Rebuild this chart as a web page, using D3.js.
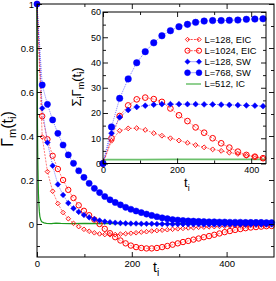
<!DOCTYPE html>
<html><head><meta charset="utf-8">
<script src="https://cdn.jsdelivr.net/npm/d3@7"></script>
<style>
body{margin:0;background:#fff}
text{font-family:"Liberation Sans",Arial,Helvetica,sans-serif;fill:#000}
</style></head>
<body><svg id="c" width="276" height="281"></svg>
<script>
// ---------- data ----------
const seriesNames = ["L=128, EIC","L=1024, EIC","L=128, SW","L=768, SW","L=512, IC"];
const tMain = [0,11,22,33,44,55,66,77,88,99,110,121,132,143,154,165,176,187,198,209,220,231,242,253,264,275,286,297,308,319,330,341,352,363,374,385,396,407,418,429,440,451,462,473,484,495];
const gEIC128 = [1.0,0.396,0.238,0.149,0.093,0.052,0.024,0.003,-0.012,-0.024,-0.033,-0.04,-0.045,-0.048,-0.049,-0.048,-0.046,-0.044,-0.042,-0.04,-0.037,-0.035,-0.032,-0.03,-0.028,-0.026,-0.024,-0.022,-0.02,-0.018,-0.017,-0.015,-0.014,-0.013,-0.012,-0.011,-0.01,-0.009,-0.008,-0.007,-0.006,-0.005,-0.005,-0.004,-0.004,-0.003];
const gEIC1024 = [1.0,0.49,0.385,0.31,0.25,0.2,0.155,0.118,0.085,0.06,0.04,0.02,0.0,-0.022,-0.042,-0.06,-0.075,-0.088,-0.098,-0.105,-0.109,-0.111,-0.111,-0.109,-0.105,-0.1,-0.094,-0.088,-0.082,-0.077,-0.071,-0.066,-0.06,-0.055,-0.049,-0.043,-0.037,-0.032,-0.027,-0.023,-0.019,-0.016,-0.014,-0.012,-0.01,-0.009];
const gSW128 = [1.0,0.526,0.37,0.265,0.18,0.132,0.095,0.071,0.055,0.041,0.03,0.022,0.016,0.011,0.008,0.006,0.004,0.003,0.002,0.002,0.001,0.001,0.001,0,0,0,-0.001,-0.001,-0.001,-0.001,-0.001,-0.001,-0.002,-0.002,-0.002,-0.002,-0.002,-0.002,-0.002,-0.002,-0.002,-0.002,-0.002,-0.002,-0.002,-0.002];
const gSW768 = [1.0,0.632,0.544,0.473,0.412,0.359,0.314,0.276,0.242,0.212,0.185,0.162,0.143,0.125,0.11,0.098,0.087,0.076,0.067,0.059,0.052,0.045,0.039,0.033,0.028,0.024,0.02,0.018,0.016,0.014,0.013,0.012,0.011,0.010,0.010,0.009,0.009,0.008,0.008,0.008,0.007,0.007,0.007,0.007,0.006,0.006];
const tIC = [0,0.5,1,1.5,2,3,4,5,6,8,10,15,20,30,40,50,70,100,150,200,250,300,350,400,450,500];
const gIC512 = [1,0.7,0.45,0.33,0.25,0.14,0.09,0.055,0.035,0.018,0.01,0.005,0.003,0.002,0.004,0.003,0.002,0.003,0.002,0.002,0.001,0.002,0.001,0.001,0.001,0.001];

const tInset = [0,23,45,68,91,114,137,159,182,205,228,250,273,296,319,341,364,387,410,432];
const sEIC128 = [0,9,13.0,13.9,14.0,13.3,12.0,11.0,10.0,9.1,8.2,7.3,6.4,5.6,5.0,4.3,3.8,3.1,2.7,2.1];
const sEIC1024 = [0,10,18.8,23.0,25.4,26.1,25.5,24.4,21.8,19.1,16.8,14.3,12.2,10.0,8.0,6.3,4.7,3.4,2.7,2.1];
const sSW128 = [0,12,18.3,21.2,22.4,22.9,23.3,23.5,23.5,23.5,23.5,23.5,23.4,23.4,23.3,23.2,23.1,23.0,22.9,22.7];
const sSW768 = [0,14.5,25.8,33.5,39.9,44.3,47.8,50.6,52.6,54.2,55.1,55.9,56.4,56.6,56.6,56.7,56.8,57.1,57.2,57.3];
const tICs = [0,2,4,7,12,20,40,100,200,300,440];
const sIC512 = [0,0.8,1.2,1.4,1.5,1.5,1.5,1.55,1.6,1.6,1.6];

const mainXMajor=[0,200,400], mainXMinor=[100,300];
const mainYMajor=[0,0.2,0.4,0.6,0.8,1], mainYMinor=[-0.1,0.1,0.3,0.5,0.7,0.9];
const insXMajor=[0,200,400], insXMinor=[100,300];
const insYMajor=[0,10,20,30,40,50,60], insYMinor=[5,15,25,35,45,55];

// ---------- styles ----------
const RED="#ff0000", BLUE="#0000ff", GREEN_MAIN="#1e9a1e", GREEN_INS="#6cc06c";
const styles = {
  "L=128, EIC": {kind:"diamond", fill:"none", stroke:RED, r:2.3, line:RED, dash:"2,1.2"},
  "L=1024, EIC": {kind:"circle", fill:"none", stroke:RED, r:2.7, line:RED, dash:"2,1.2"},
  "L=128, SW": {kind:"diamond", fill:BLUE, stroke:BLUE, r:2.8, line:BLUE, dash:"1,1"},
  "L=768, SW": {kind:"circle", fill:BLUE, stroke:BLUE, r:3.1, line:BLUE, dash:"1,1"}
};

const svg=d3.select("#c");
function diamond(r){return `M0,${-r}L${r},0L0,${r}L${-r},0Z`;}

function drawMarker(g, st, px, py, scale){
  if(st.kind==="circle"){
    g.append("circle").attr("cx",px).attr("cy",py).attr("r",st.r*scale)
      .attr("fill",st.fill).attr("stroke",st.stroke).attr("stroke-width",st.fill==="none"?1:0.5);
  } else {
    g.append("path").attr("d",diamond(st.r*scale)).attr("transform",`translate(${px},${py})`)
      .attr("fill",st.fill).attr("stroke",st.stroke).attr("stroke-width",st.fill==="none"?0.9:0.5);
  }
}
function drawSeries(g, xs, ys, ts, vs, st, scale){
  const pts=ts.map((t,i)=>({t,v:vs[i]}));
  g.append("path").datum(pts).attr("d",d3.line().x(d=>xs(d.t)).y(d=>ys(d.v)))
    .attr("fill","none").attr("stroke",st.line).attr("stroke-width",0.7)
    .attr("stroke-dasharray",st.dash).attr("opacity",0.75);
  pts.forEach(d=>drawMarker(g,st,xs(d.t),ys(d.v),scale));
}
function drawLine(g,xs,ys,ts,vs,color,w){
  const pts=ts.map((t,i)=>({t,v:vs[i]}));
  g.append("path").datum(pts).attr("d",d3.line().x(d=>xs(d.t)).y(d=>ys(d.v)))
    .attr("fill","none").attr("stroke",color).attr("stroke-width",w);
}
function frameAxes(g,xs,ys,xMaj,xMin,yMaj,yMin,fs,yFmt,xPad,yPad){
  const [x0,x1]=xs.range(), [y0,y1]=ys.range(); // y0 bottom
  const mk=(axis,pos,vals,size,fmt)=>{
    const a=g.append("g").attr("transform",pos).call(axis.tickValues(vals).tickSize(size).tickSizeOuter(0).tickFormat(fmt));
    a.select(".domain").remove();
    a.selectAll("line").attr("stroke","#000").attr("stroke-width",0.9);
    return a;
  };
  const none=()=>"";
  const bx=mk(d3.axisBottom(xs).tickPadding(xPad),`translate(0,${y0})`,xMaj,-5,d=>String(d));
  bx.selectAll("text").attr("font-size",fs).attr("fill","#000");
  mk(d3.axisBottom(xs),`translate(0,${y0})`,xMin,-3,none);
  mk(d3.axisTop(xs),`translate(0,${y1})`,xMaj,-5,none);
  mk(d3.axisTop(xs),`translate(0,${y1})`,xMin,-3,none);
  const ly=mk(d3.axisLeft(ys).tickPadding(yPad),`translate(${x0},0)`,yMaj,-5,yFmt);
  ly.selectAll("text").attr("font-size",fs).attr("fill","#000");
  mk(d3.axisLeft(ys),`translate(${x0},0)`,yMin,-3,none);
  mk(d3.axisRight(ys),`translate(${x1},0)`,yMaj,-5,none);
  mk(d3.axisRight(ys),`translate(${x1},0)`,yMin,-3,none);
  g.append("rect").attr("x",x0).attr("y",y1).attr("width",x1-x0).attr("height",y0-y1)
    .attr("fill","none").attr("stroke","#000").attr("stroke-width",1);
}

// ---------- main plot ----------
const x=d3.scaleLinear().domain([0,500]).range([37,274]);
const y=d3.scaleLinear().domain([-0.15,1]).range([257,4]);
const gm=svg.append("g");
drawLine(gm,x,y,tIC,gIC512,GREEN_MAIN,1.2);
drawSeries(gm,x,y,tMain,gEIC128,styles["L=128, EIC"],1);
drawSeries(gm,x,y,tMain,gEIC1024,styles["L=1024, EIC"],1);
drawSeries(gm,x,y,tMain,gSW128,styles["L=128, SW"],1);
drawSeries(gm,x,y,tMain,gSW768,styles["L=768, SW"],1);
frameAxes(svg.append("g"),x,y,mainXMajor,mainXMinor,mainYMajor,mainYMinor,"9.5px",d=>String(+d.toFixed(1)),3,3);

// main labels
const yl=svg.append("text").attr("transform","translate(13,129) rotate(-90)").attr("text-anchor","middle").attr("font-size","16px");
yl.append("tspan").text("Γ");
yl.append("tspan").attr("font-size","11px").attr("dy",3).text("m");
yl.append("tspan").attr("dy",-3).text("(t");
yl.append("tspan").attr("font-size","11px").attr("dy",3).text("i");
yl.append("tspan").attr("dy",-3).text(")");
const xl=svg.append("text").attr("x",153).attr("y",272).attr("font-size","14px");
xl.append("tspan").text("t");
xl.append("tspan").attr("font-size","10px").attr("dy",4).text("i");

// ---------- inset ----------
const xi=d3.scaleLinear().domain([0,440]).range([103,266]);
const yi=d3.scaleLinear().domain([0,60]).range([163.5,12]);
const gi=svg.append("g");
gi.append("rect").attr("x",103).attr("y",12).attr("width",163).attr("height",151.5).attr("fill","#fff");
drawLine(gi,xi,yi,tICs,sIC512,GREEN_INS,1.8);
drawSeries(gi,xi,yi,tInset,sEIC128,styles["L=128, EIC"],1.05);
drawSeries(gi,xi,yi,tInset,sEIC1024,styles["L=1024, EIC"],1.05);
drawSeries(gi,xi,yi,tInset,sSW128,styles["L=128, SW"],1.05);
drawSeries(gi,xi,yi,tInset,sSW768,styles["L=768, SW"],1.05);
frameAxes(svg.append("g"),xi,yi,insXMajor,insXMinor,insYMajor,insYMinor,"9px",d=>String(d),3,2);

const il=svg.append("text").attr("transform","translate(81,87) rotate(-90)").attr("text-anchor","middle").attr("font-size","13px");
il.append("tspan").text("Σ");
il.append("tspan").attr("font-size","9px").attr("dy",3).text("i");
il.append("tspan").attr("dy",-3).text("Γ");
il.append("tspan").attr("font-size","9px").attr("dy",3).text("m");
il.append("tspan").attr("dy",-3).text("(t");
il.append("tspan").attr("font-size","9px").attr("dy",3).text("i");
il.append("tspan").attr("dy",-3).text(")");
const ixl=svg.append("text").attr("x",184).attr("y",187).attr("font-size","13px");
ixl.append("tspan").text("t");
ixl.append("tspan").attr("font-size","9px").attr("dy",4).text("i");

// ---------- legend ----------
const legY=[39.5,50.7,61.7,72.7,84];
const lg=svg.append("g");
seriesNames.forEach((nm,i)=>{
  const yy=legY[i];
  if(styles[nm]){
    const st=styles[nm];
    lg.append("line").attr("x1",187.5).attr("x2",199).attr("y1",yy).attr("y2",yy)
      .attr("stroke",st.line).attr("stroke-width",0.7).attr("stroke-dasharray",st.dash);
    drawMarker(lg,st,187.5,yy,0.95);
    drawMarker(lg,st,199,yy,0.95);
  } else {
    lg.append("line").attr("x1",186).attr("x2",201).attr("y1",yy).attr("y2",yy)
      .attr("stroke",GREEN_INS).attr("stroke-width",1.5);
  }
  lg.append("text").attr("x",204.5).attr("y",yy).attr("dy","0.36em").attr("font-size","9.3px").text(nm);
});
</script></body></html>
